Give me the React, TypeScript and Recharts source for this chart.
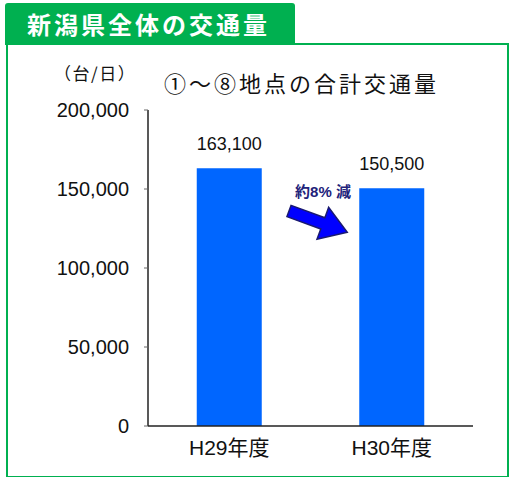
import { Bar, BarChart, LabelList, XAxis, YAxis } from 'recharts';

const CATEGORIES = ['H29年度', 'H30年度'];
const VOLUMES = [163100, 150500];
const Y_TICKS = [0, 50000, 100000, 150000, 200000];

const GREEN = '#00B050';
const BAR_COLOR = '#0066FF';
const FONT = '"Noto Sans CJK JP", "Noto Sans", sans-serif';
const NUM_FONT = '"Liberation Sans", "Noto Sans CJK JP", sans-serif';

const data = CATEGORIES.map((label, i) => ({ label, volume: VOLUMES[i] }));

const fmt = (v: number) => v.toLocaleString('en-US');

function DecreaseArrow() {
  // shaft + head, pointing right, tilted down toward the H30 bar
  const pts = '0,-6 36,-6 36,-17 62,0 36,17 36,6 0,6';
  return (
    <svg
      width={509}
      height={477}
      style={{ position: 'absolute', left: 0, top: 0, pointerEvents: 'none' }}
    >
      <text
        x={323}
        y={197}
        textAnchor="middle"
        fontSize={15}
        fontWeight={700}
        fill="#22227A"
        fontFamily={NUM_FONT}
      >
        約8% 減
      </text>
      <polygon
        points={pts}
        transform="translate(289,211) rotate(20)"
        fill="#0000FF"
        stroke="#1A1A70"
        strokeWidth={1.5}
        strokeLinejoin="miter"
      />
    </svg>
  );
}

export default function App() {
  return (
    <div
      style={{
        position: 'fixed',
        left: 0,
        top: 0,
        width: 509,
        height: 477,
        background: '#fff',
        fontFamily: FONT,
      }}
    >
      <div
        style={{
          position: 'absolute',
          left: 6,
          top: 43,
          width: 499,
          height: 431,
          border: `2.5px solid ${GREEN}`,
        }}
      />
      <div
        style={{
          position: 'absolute',
          left: 5,
          top: 3,
          width: 290,
          height: 42,
          background: GREEN,
          borderRadius: '3px 3px 0 0',
          color: '#fff',
          fontSize: 24,
          fontWeight: 700,
          letterSpacing: 3,
          lineHeight: '42px',
          paddingLeft: 22,
          boxSizing: 'border-box',
        }}
      >
        新潟県全体の交通量
      </div>
      <div
        style={{
          position: 'absolute',
          left: 54,
          top: 60,
          fontSize: 17,
          color: '#111',
          letterSpacing: 1.5,
        }}
      >
        （台/日）
      </div>
      <div
        style={{
          position: 'absolute',
          left: 164,
          top: 70,
          fontSize: 22,
          color: '#111',
          letterSpacing: 3,
          lineHeight: '30px',
          fontFamily: NUM_FONT,
        }}
      >
        ①～⑧地点の合計交通量
      </div>
      <div style={{ position: 'absolute', left: 0, top: 0 }}>
        <BarChart
          width={509}
          height={477}
          data={data}
          margin={{ top: 110, right: 36, left: 68, bottom: 11 }}
          barCategoryGap="30%"
        >
          <XAxis
            dataKey="label"
            height={40}
            axisLine={{ stroke: '#222', strokeWidth: 1.5 }}
            tickLine={false}
            tick={{ fontSize: 21, fill: '#111', fontFamily: NUM_FONT }}
            tickMargin={8}
          />
          <XAxis
            xAxisId="top"
            dataKey="label"
            orientation="top"
            height={0}
            tick={false}
            tickLine={false}
            axisLine={{ stroke: '#222', strokeWidth: 1.5 }}
          />
          <YAxis
            width={80}
            domain={[0, 200000]}
            ticks={Y_TICKS}
            tickFormatter={fmt}
            axisLine={{ stroke: '#222', strokeWidth: 1.5 }}
            tickLine={{ stroke: '#666' }}
            tickSize={4}
            tickMargin={15}
            tick={{ fontSize: 20, fill: '#111', fontFamily: NUM_FONT }}
          />
          <YAxis
            yAxisId="right"
            orientation="right"
            domain={[0, 200000]}
            width={0}
            tick={false}
            tickLine={false}
            axisLine={{ stroke: '#222', strokeWidth: 1.5 }}
          />
          <Bar dataKey="volume" fill={BAR_COLOR} isAnimationActive={false}>
            <LabelList
              dataKey="volume"
              position="top"
              offset={18}
              formatter={(v: any) => fmt(Number(v))}
              style={{ fontSize: 18, fill: '#111', fontFamily: NUM_FONT }}
            />
          </Bar>
        </BarChart>
      </div>
      <DecreaseArrow />
    </div>
  );
}
